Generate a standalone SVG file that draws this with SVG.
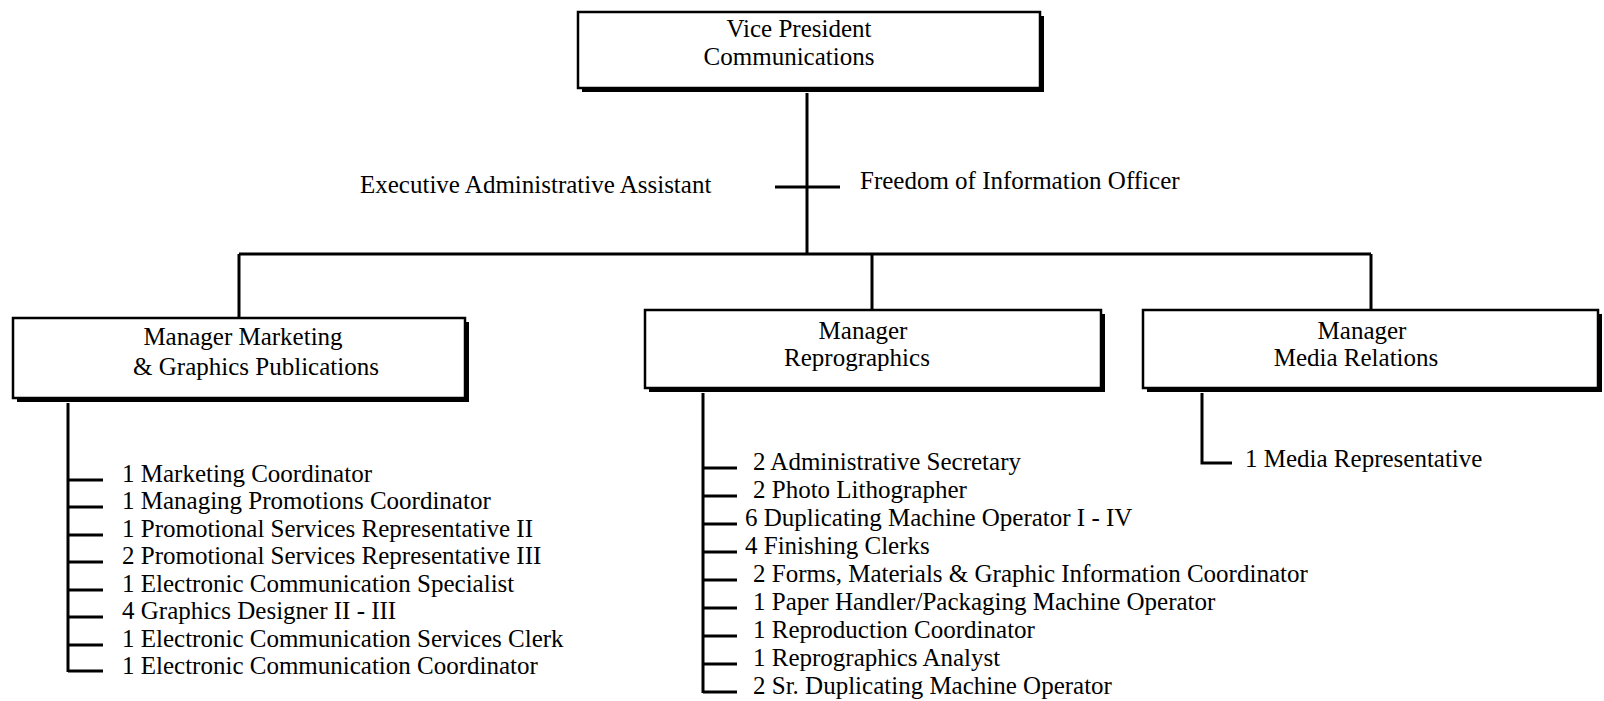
<svg xmlns="http://www.w3.org/2000/svg" width="1604" height="701" viewBox="0 0 1604 701">
<style>
text{font-family:"Liberation Serif","Times New Roman",serif;font-size:25px;fill:#000}
.c{text-anchor:middle}
.shadow{fill:#000}
.box{fill:#fff;stroke:#000;stroke-width:2.5}
.ln{stroke:#000;stroke-width:3;fill:none}
</style>
<rect width="1604" height="701" fill="#fff"/>
<g id="connectors">
<path class="ln" d="M807 93V254M775 187H840M239 254H1371M239 254V318M872 254V310M1371 254V310"/>
<path class="ln" d="M68 403V672M68 480H103M68 507H103M68 535H103M68 562H103M68 590H103M68 617H103M68 645H103M68 671H103"/>
<path class="ln" d="M703 393V693M703 468H737M703 496H737M703 524H737M703 552H737M703 580H737M703 608H737M703 636H737M703 664H737M703 692H737"/>
<path class="ln" d="M1202 393V463H1232"/>
</g>
<g id="vp">
<rect class="shadow" x="582" y="16" width="462" height="76"/>
<rect class="box" x="578" y="12" width="462" height="76"/>
<text class="c" x="799" y="37">Vice President</text>
<text class="c" x="789" y="65">Communications</text>
</g>
<g id="side-staff">
<text x="360" y="193">Executive Administrative Assistant</text>
<text x="860" y="189">Freedom of Information Officer</text>
</g>
<g id="mgr-marketing">
<rect class="shadow" x="17" y="322" width="452" height="80"/>
<rect class="box" x="13" y="318" width="452" height="80"/>
<text class="c" x="243" y="345">Manager Marketing</text>
<text class="c" x="256" y="375">&amp; Graphics Publications</text>
</g>
<g id="mgr-repro">
<rect class="shadow" x="649" y="314" width="456" height="78"/>
<rect class="box" x="645" y="310" width="456" height="78"/>
<text class="c" x="863" y="339">Manager</text>
<text class="c" x="857" y="366">Reprographics</text>
</g>
<g id="mgr-media">
<rect class="shadow" x="1147" y="314" width="455" height="78"/>
<rect class="box" x="1143" y="310" width="455" height="78"/>
<text class="c" x="1362" y="339">Manager</text>
<text class="c" x="1356" y="366">Media Relations</text>
</g>
<g id="marketing-staff">
<text x="122" y="482">1 Marketing Coordinator</text>
<text x="122" y="509">1 Managing Promotions Coordinator</text>
<text x="122" y="537">1 Promotional Services Representative II</text>
<text x="122" y="564">2 Promotional Services Representative III</text>
<text x="122" y="592">1 Electronic Communication Specialist</text>
<text x="122" y="619">4 Graphics Designer II - III</text>
<text x="122" y="647">1 Electronic Communication Services Clerk</text>
<text x="122" y="674">1 Electronic Communication Coordinator</text>
</g>
<g id="repro-staff">
<text x="753" y="470">2 Administrative Secretary</text>
<text x="753" y="498">2 Photo Lithographer</text>
<text x="745" y="526">6 Duplicating Machine Operator I - IV</text>
<text x="745" y="554">4 Finishing Clerks</text>
<text x="753" y="582">2 Forms, Materials &amp; Graphic Information Coordinator</text>
<text x="753" y="610">1 Paper Handler/Packaging Machine Operator</text>
<text x="753" y="638">1 Reproduction Coordinator</text>
<text x="753" y="666">1 Reprographics Analyst</text>
<text x="753" y="694">2 Sr. Duplicating Machine Operator</text>
</g>
<g id="media-staff">
<text x="1245" y="467">1 Media Representative</text>
</g>
</svg>
